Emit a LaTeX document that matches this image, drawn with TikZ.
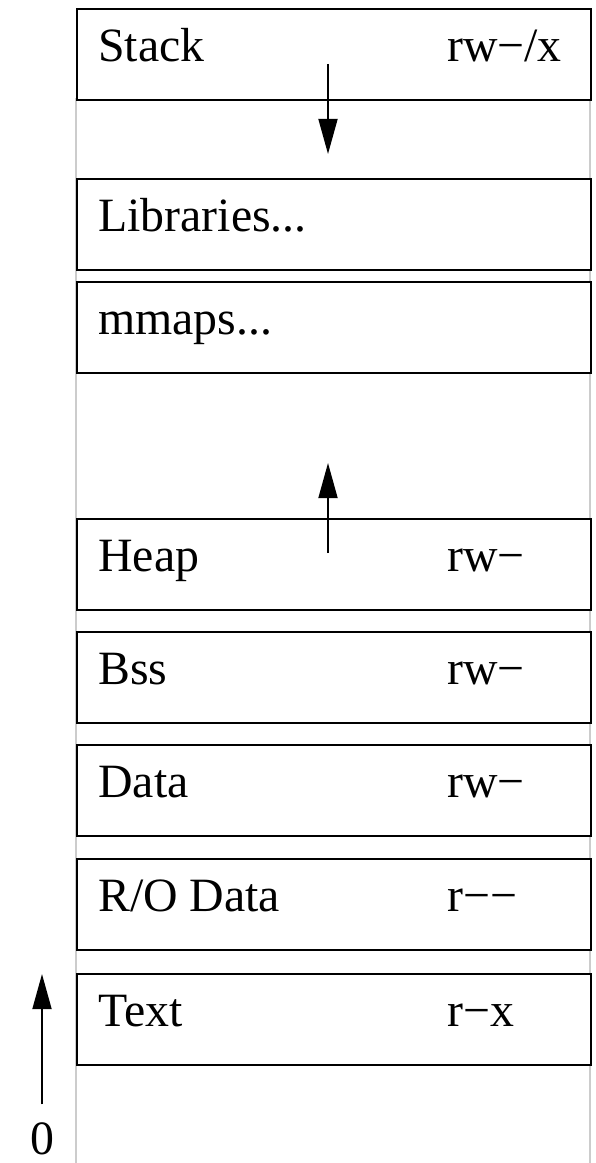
\documentclass[tikz,border=0pt]{standalone}
\usepackage{fontspec}
\setmainfont{Liberation Serif}
\usetikzlibrary{arrows.meta}

\begin{document}
\begin{tikzpicture}[x=0.025cm, y=-0.025cm, font=\fontsize{34}{40}\selectfont, line join=miter, >={Triangle[length=25pt,width=13.5pt]},
		seg/.style={draw, line width=1.4pt, fill=white, anchor=north west, minimum width=12.85cm, minimum height=2.275cm, inner sep=0pt},
		lbl/.style={anchor=mid west, inner sep=0pt}]
		\useasboundingbox (0,0) rectangle (596,1163);
		\coordinate (L) at (76,98);
		\coordinate (R) at (590,98);
		\coordinate (LB) at (76,1163);
		\coordinate (RB) at (590,1163);
		\draw[black!20, line width=1.5pt] (L) -- (LB) (R) -- (RB);
		% segments, top to bottom
		\node[seg] (stack) at (76,8) {};
		\node[seg] (libs) at (76,178) {};
		\node[seg] (mmaps) at (76,281) {};
		\node[seg] (heap) at (76,518) {};
		\node[seg] (bss) at (76,631) {};
		\node[seg] (data) at (76,744) {};
		\node[seg] (rodata) at (76,858) {};
		\node[seg] (text) at (76,973) {};
		\node[lbl] (stackn) at (98,58) {Stack};
		\node[lbl] (stackp) at (447,58) {rw−/x};
		\node[lbl] (libsn) at (98,228) {Libraries...};
		\node[lbl] (mmapsn) at (98,331) {mmaps...};
		\node[lbl] (heapn) at (98,568) {Heap};
		\node[lbl] (heapp) at (447,568) {rw−};
		\node[lbl] (bssn) at (98,681) {Bss};
		\node[lbl] (bssp) at (447,681) {rw−};
		\node[lbl] (datan) at (98,794) {Data};
		\node[lbl] (datap) at (447,794) {rw−};
		\node[lbl] (rodatan) at (98,908) {R/O Data};
		\node[lbl] (rodatap) at (447,908) {r−−};
		\node[lbl] (textn) at (98,1023) {Text};
		\node[lbl] (textp) at (447,1023) {r−x};
		% growth arrows
		\coordinate (s1) at (328,64);
		\coordinate (s2) at (328,154);
		\coordinate (h1) at (328,553);
		\coordinate (h2) at (328,463);
		\draw[->, line width=1.4pt] (s1) -- (s2);
		\draw[->, line width=1.4pt] (h1) -- (h2);
		\node[inner sep=0pt] (zero) at (42,1139) {0};
		\coordinate (o2) at (42,974);
		\draw[->, line width=1.4pt] ([yshift=13pt]zero.north) -- (o2);
	\end{tikzpicture}
\end{document}
